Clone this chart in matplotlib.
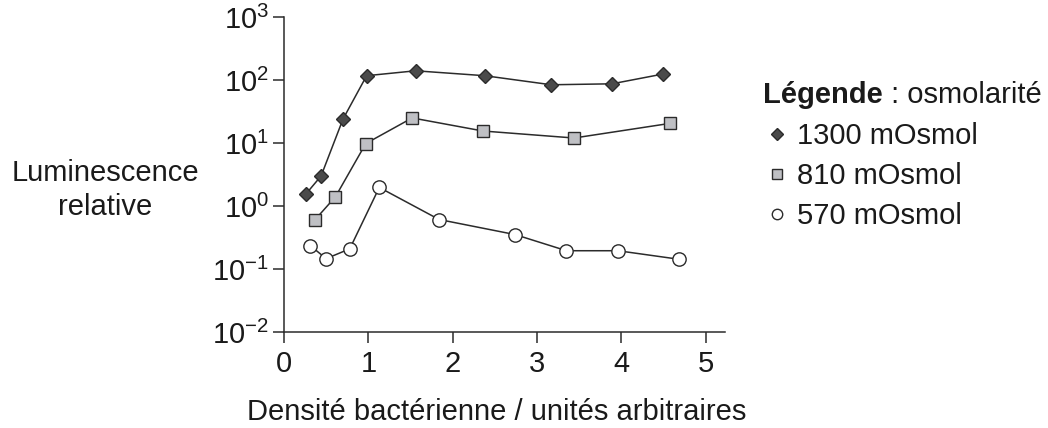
import matplotlib
matplotlib.use("Agg")
import matplotlib.pyplot as plt
from matplotlib.lines import Line2D

plt.rcParams["font.family"] = ["Liberation Sans", "DejaVu Sans"]
plt.rcParams["mathtext.fontset"] = "custom"
plt.rcParams["mathtext.rm"] = "Liberation Sans"
plt.rcParams["mathtext.it"] = "Liberation Sans"

# data
x_1300 = [0.26, 0.44, 0.70, 0.98, 1.56, 2.38, 3.17, 3.89, 4.49]
y_1300 = [1.55, 3.0, 24, 117, 140, 117, 84, 87, 124]

x_810 = [0.37, 0.61, 0.97, 1.52, 2.36, 3.44, 4.58]
y_810 = [0.61, 1.40, 9.8, 25, 15.5, 12, 20.5]

x_570 = [0.31, 0.50, 0.78, 1.13, 1.84, 2.74, 3.35, 3.96, 4.68]
y_570 = [0.236, 0.146, 0.209, 1.97, 0.61, 0.352, 0.195, 0.195, 0.143]

labels = ["1300 mOsmol", "810 mOsmol", "570 mOsmol"]
yticks = [1e-2, 1e-1, 1e0, 1e1, 1e2, 1e3]
ytick_labels = [r"$\mathregular{10^{-2}}$", r"$\mathregular{10^{-1}}$", r"$\mathregular{10^{0}}$",
                r"$\mathregular{10^{1}}$", r"$\mathregular{10^{2}}$", r"$\mathregular{10^{3}}$"]
xticks = [0, 1, 2, 3, 4, 5]

W, H = 1048, 428
fig = plt.figure(figsize=(W / 100, H / 100), dpi=100)
ax = fig.add_axes([284 / W, 1 - 332 / H, 441 / W, 315 / H])

dark = "#2b2b2b"
txt = "#1a1a1a"
fs = 21

ax.plot(x_1300, y_1300, color=dark, lw=1.1, marker="D", ms=6.8, mfc="#4a4a4a", mec=dark, mew=1.0, zorder=3)
ax.plot(x_810, y_810, color=dark, lw=1.1, marker="s", ms=8, mfc="#bfc0c4", mec=dark, mew=1.0, zorder=3)
ax.plot(x_570, y_570, color=dark, lw=1.1, marker="o", ms=9.6, mfc="white", mec=dark, mew=1.0, zorder=3)

ax.set_yscale("log")
ax.set_ylim(1e-2, 1e3)
ax.set_xlim(0, 5.23)
ax.set_yticks(yticks)
ax.set_yticklabels(ytick_labels)
ax.yaxis.set_minor_locator(matplotlib.ticker.NullLocator())
ax.set_xticks(xticks)
for s in ["top", "right"]:
    ax.spines[s].set_visible(False)
for s in ["left", "bottom"]:
    ax.spines[s].set_color(dark)
    ax.spines[s].set_linewidth(1.1)
ax.tick_params(axis="both", direction="out", length=8, width=1.1, color=dark,
               labelsize=fs, labelcolor=txt, pad=3)
ax.tick_params(axis="x", pad=5)

# axis titles
fig.text(105 / W, 1 - 181 / H, "Luminescence", ha="center", va="baseline", fontsize=fs, color=txt)
fig.text(105 / W, 1 - 215 / H, "relative", ha="center", va="baseline", fontsize=fs, color=txt)
fig.text(497 / W, 1 - 420 / H, "Densité bactérienne / unités arbitraires",
         ha="center", va="baseline", fontsize=fs, color=txt)

# legend
t = fig.text(763 / W, 1 - 103 / H, "Légende", ha="left", va="baseline",
             fontsize=fs, fontweight="bold", color=txt)
fig.canvas.draw()
bb = t.get_window_extent()
fig.text(bb.x1 / W, 1 - 103 / H, " : osmolarité", ha="left", va="baseline",
         fontsize=fs, color=txt)

handles = [
    Line2D([], [], ls="none", marker="D", ms=6.5, mfc="#4a4a4a", mec=dark, mew=1.0),
    Line2D([], [], ls="none", marker="s", ms=7.4, mfc="#bfc0c4", mec=dark, mew=1.0),
    Line2D([], [], ls="none", marker="o", ms=7.5, mfc="white", mec=dark, mew=1.0),
]
fig.legend(handles, labels, loc="upper left", bbox_to_anchor=(768 / W, 1 - 122 / H),
           frameon=False, fontsize=fs, handlelength=0.6, handletextpad=0.38,
           labelspacing=0.41, borderaxespad=0, borderpad=0, labelcolor=txt)

fig.savefig("out.png", dpi=100, facecolor="white")
